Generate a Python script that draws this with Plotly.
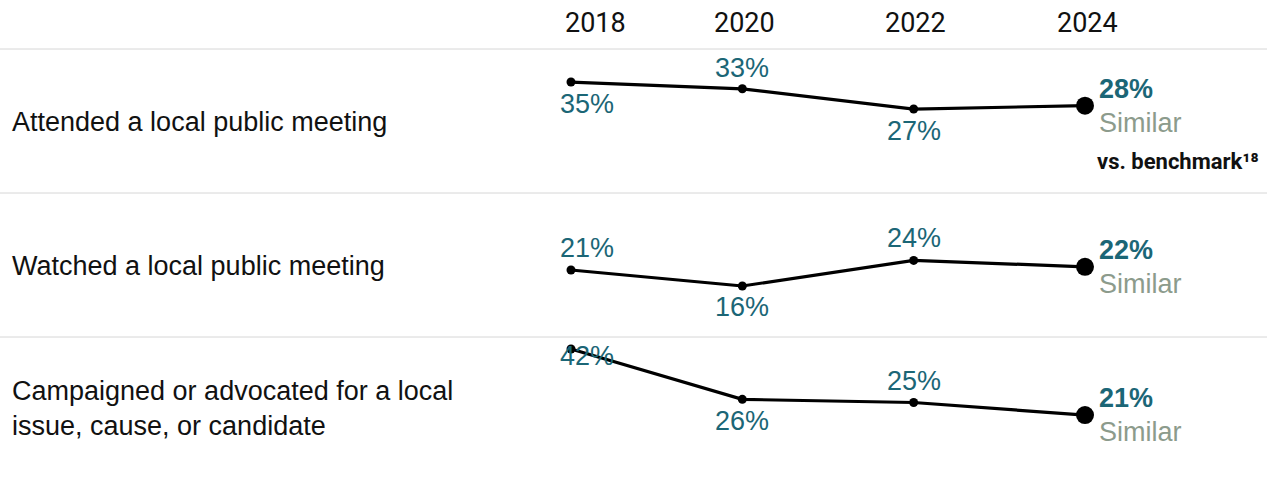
import plotly.graph_objects as go

# Survey years and share of respondents (%) for each civic activity
years = [2018, 2020, 2022, 2024]
activities = [
    "Attended a local public meeting",
    "Watched a local public meeting",
    "Campaigned or advocated for a local<br>issue, cause, or candidate",
]
attended = [35, 33, 27, 28]
watched = [21, 16, 24, 22]
campaigned = [42, 26, 25, 21]
comparisons = ["Similar", "Similar", "Similar"]
year_labels = ["2018", "2020", "2022", "2024"]

# label placement per point: vertical pixel offset from the marker
attended_shift = [-22, 21, -22]
watched_shift = [22, -21, 22]
campaigned_shift = [-7, -22, 22]

W, H = 1267, 479
TEAL = "#1b6676"
GREY = "#8c9b8c"
ARIAL = "Liberation Sans, Arial, sans-serif"
ROBOTO = "Roboto, sans-serif"

# pixel bands of the three rows (top, bottom)
bands = [(49, 193), (193, 337), (337, 479)]
y_ranges = [[2.1, 44.8], [0.06, 45.06], [0.72, 45.8]]

# x range so 2018 and 2024 sit at pixel columns 571 and 1085
px_per_year = (1085 - 571) / 6
x_range = [2018 - 571 / px_per_year, 2018 + (W - 571) / px_per_year]

series = [attended, watched, campaigned]
shifts = [attended_shift, watched_shift, campaigned_shift]
yaxes = ["y", "y2", "y3"]

fig = go.Figure()
annotations = []

for i, (vals, sh, ya) in enumerate(zip(series, shifts, yaxes)):
    fig.add_trace(go.Scatter(
        x=years, y=vals, xaxis="x", yaxis=ya, mode="lines+markers",
        line=dict(color="black", width=3.2),
        marker=dict(color="black", size=[9, 9, 9, 18], opacity=1,
                    line=dict(width=0, color="black")),
        cliponaxis=False, hoverinfo="skip", showlegend=False,
    ))
    # value labels for the earlier years
    for j in range(3):
        annotations.append(dict(
            x=years[j], y=vals[j], xref="x", yref=ya,
            text=f"{vals[j]}%", showarrow=False,
            xshift=16 if j == 0 else 0, yshift=sh[j],
            font=dict(family=ARIAL, size=27, color=TEAL),
        ))
    # latest value in bold plus the benchmark comparison
    annotations.append(dict(
        x=years[3], y=vals[3], xref="x", yref=ya, xanchor="left",
        text=f"<b>{vals[3]}%</b>", showarrow=False, xshift=12, yshift=17,
        font=dict(family=ARIAL, size=27, color=TEAL),
    ))
    annotations.append(dict(
        x=years[3], y=vals[3], xref="x", yref=ya, xanchor="left",
        text=comparisons[i], showarrow=False, xshift=12, yshift=-17,
        font=dict(family=ARIAL, size=27, color=GREY),
    ))
    # row label on the left
    label_y = {0: 122, 1: 266, 2: 408}[i]
    annotations.append(dict(
        x=10 / W, y=1 - label_y / H, xref="paper", yref="paper",
        xanchor="left", yanchor="middle", align="left",
        text=activities[i], showarrow=False,
        font=dict(family=ARIAL, size=27, color="#111111"),
    ))

annotations.append(dict(
    x=1095 / W, y=1 - 162 / H, xref="paper", yref="paper",
    xanchor="left", yanchor="middle", showarrow=False,
    text="<b>vs. benchmark\u00b9\u2078</b>",
    font=dict(family=ROBOTO, size=22, color="#111111"),
))

for yr, lab in zip(years, year_labels):
    annotations.append(dict(
        x=yr, y=1 - 23 / H, xref="x", yref="paper", yanchor="middle",
        text=lab, showarrow=False, xshift=24 if yr == years[0] else 2,
        font=dict(family=ROBOTO, size=27, color="#111111"),
    ))

shapes = [
    dict(type="line", xref="paper", yref="paper", x0=0, x1=1,
         y0=1 - y / H, y1=1 - y / H, line=dict(color="#d6d6d6", width=1))
    for y in (49, 193, 337)
]

def axis_y(i):
    top, bot = bands[i]
    return dict(domain=[1 - bot / H, 1 - top / H], range=y_ranges[i],
                visible=False, fixedrange=True, anchor="x")

fig.update_layout(
    width=W, height=H, margin=dict(l=0, r=0, t=0, b=0),
    paper_bgcolor="white", plot_bgcolor="white",
    xaxis=dict(domain=[0, 1], range=x_range, visible=False, anchor="y"),
    yaxis=axis_y(0), yaxis2=axis_y(1), yaxis3=axis_y(2),
    annotations=annotations, shapes=shapes,
)

fig.write_html("out.html")
